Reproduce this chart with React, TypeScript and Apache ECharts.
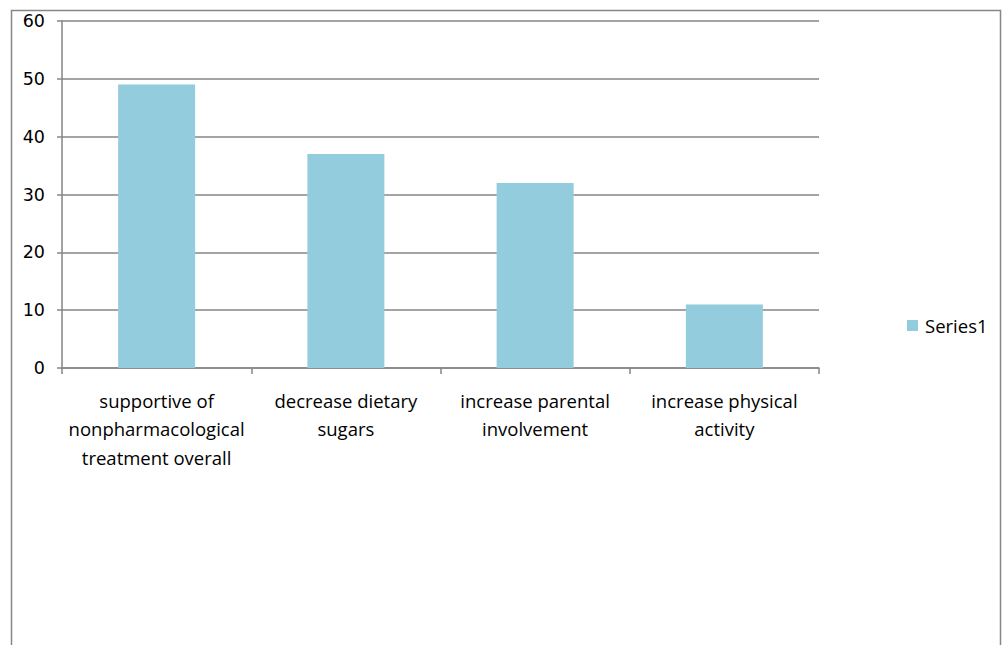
import React, { useEffect, useRef } from "react";
import * as echarts from "echarts";

// Category labels as they wrap under the axis
const categories = [
  "supportive of\nnonpharmacological\ntreatment overall",
  "decrease dietary\nsugars",
  "increase parental\ninvolvement",
  "increase physical\nactivity",
];
const seriesName = "Series1";
const series1Values = [49, 37, 32, 11];
const yTicks = { min: 0, max: 60, interval: 10 };

const GRID_COLOR = "#868686";
const BAR_COLOR = "#93CDDD";

export default function App() {
  const ref = useRef<HTMLDivElement>(null);

  useEffect(() => {
    if (!ref.current) return;
    const chart = echarts.init(ref.current, null, { renderer: "svg" });
    chart.setOption({
      animation: false,
      backgroundColor: "#ffffff",
      graphic: [
        {
          type: "rect",
          shape: { x: 11.5, y: 10.5, width: 989, height: 660 },
          style: { fill: "none", stroke: GRID_COLOR, lineWidth: 1.5 },
          silent: true,
        },
      ],
      grid: { left: 62, top: 21, width: 757, height: 347, containLabel: false },
      legend: {
        data: [seriesName],
        left: 907,
        top: 316,
        padding: 0,
        orient: "vertical",
        icon: "rect",
        itemWidth: 11,
        itemHeight: 11,
        textStyle: {
          fontFamily: "Open Sans",
          fontSize: 18.5,
          color: "#000",
          padding: [0, 0, 0, 2],
        },
      },
      xAxis: {
        type: "category",
        data: categories,
        axisLine: { lineStyle: { color: GRID_COLOR, width: 1.5 } },
        axisTick: {
          show: true,
          length: 6,
          alignWithLabel: false,
          lineStyle: { color: GRID_COLOR, width: 1.5 },
        },
        axisLabel: {
          interval: 0,
          margin: 18,
          fontFamily: "Open Sans",
          fontSize: 18.5,
          lineHeight: 28.5,
          color: "#000",
        },
      },
      yAxis: {
        type: "value",
        min: yTicks.min,
        max: yTicks.max,
        interval: yTicks.interval,
        axisLine: { show: true, lineStyle: { color: GRID_COLOR, width: 1.5 } },
        axisTick: { show: true, length: 5, lineStyle: { color: GRID_COLOR, width: 1.5 } },
        splitLine: { lineStyle: { color: GRID_COLOR, width: 1.5 } },
        axisLabel: {
          margin: 17,
          fontFamily: "DejaVu Sans",
          fontSize: 17.5,
          color: "#000",
        },
      },
      series: [
        {
          name: seriesName,
          type: "bar",
          data: series1Values,
          barWidth: 77,
          itemStyle: { color: BAR_COLOR },
        },
      ],
    });
    return () => chart.dispose();
  }, []);

  return (
    <div
      ref={ref}
      style={{ position: "fixed", left: 0, top: 0, width: 1004, height: 645 }}
    />
  );
}
